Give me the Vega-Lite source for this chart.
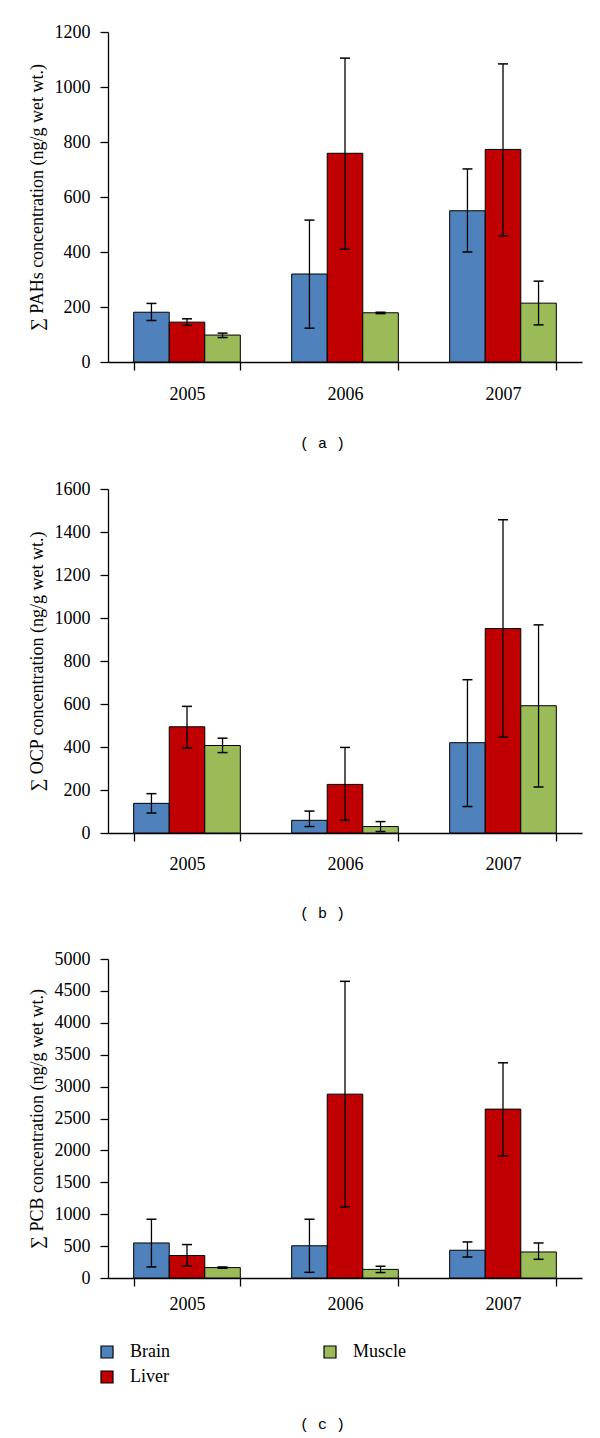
{
  "$schema": "https://vega.github.io/schema/vega-lite/v6.json",
  "background": "white",
  "padding": {"top": 23, "left": 28, "right": 12, "bottom": 5},
  "spacing": 30,
  "config": {
    "view": {"stroke": null},
    "font": "Liberation Serif",
    "axis": {
      "labelFont": "Liberation Serif", "labelFontSize": 18, "labelColor": "black",
      "titleFont": "Liberation Serif", "titleFontSize": 18, "titleFontWeight": "normal", "titleColor": "black",
      "domainColor": "black", "tickColor": "black", "domainWidth": 1.3, "tickWidth": 1.3, "tickSize": 8, "grid": false
    },
    "axisX": {"labelAngle": 0, "tickBand": "extent", "titleFont": "Liberation Mono", "titleFontSize": 15, "titleX": 214, "titleAlign": "center", "titleAnchor": null},
    "axisY": {"labelPadding": 10, "titlePadding": 8, "format": "d", "labelOverlap": false}
  },
  "datasets": {
    "pah": [
      {"year": "2005", "tissue": "Brain", "value": 181, "lo": 151, "hi": 213},
      {"year": "2005", "tissue": "Liver", "value": 145, "lo": 133, "hi": 157},
      {"year": "2005", "tissue": "Muscle", "value": 98, "lo": 89, "hi": 105},
      {"year": "2006", "tissue": "Brain", "value": 320, "lo": 123, "hi": 516},
      {"year": "2006", "tissue": "Liver", "value": 759, "lo": 410, "hi": 1105},
      {"year": "2006", "tissue": "Muscle", "value": 179, "lo": 176, "hi": 181},
      {"year": "2007", "tissue": "Brain", "value": 550, "lo": 400, "hi": 702},
      {"year": "2007", "tissue": "Liver", "value": 773, "lo": 459, "hi": 1084},
      {"year": "2007", "tissue": "Muscle", "value": 214, "lo": 135, "hi": 294}
    ],
    "ocp": [
      {"year": "2005", "tissue": "Brain", "value": 138, "lo": 93, "hi": 183},
      {"year": "2005", "tissue": "Liver", "value": 494, "lo": 395, "hi": 589},
      {"year": "2005", "tissue": "Muscle", "value": 407, "lo": 374, "hi": 441},
      {"year": "2006", "tissue": "Brain", "value": 59, "lo": 30, "hi": 102},
      {"year": "2006", "tissue": "Liver", "value": 226, "lo": 59, "hi": 398},
      {"year": "2006", "tissue": "Muscle", "value": 30, "lo": 7, "hi": 53},
      {"year": "2007", "tissue": "Brain", "value": 420, "lo": 123, "hi": 713},
      {"year": "2007", "tissue": "Liver", "value": 951, "lo": 446, "hi": 1457},
      {"year": "2007", "tissue": "Muscle", "value": 592, "lo": 214, "hi": 968}
    ],
    "pcb": [
      {"year": "2005", "tissue": "Brain", "value": 549, "lo": 173, "hi": 921},
      {"year": "2005", "tissue": "Liver", "value": 352, "lo": 188, "hi": 524},
      {"year": "2005", "tissue": "Muscle", "value": 163, "lo": 153, "hi": 173},
      {"year": "2006", "tissue": "Brain", "value": 505, "lo": 89, "hi": 921},
      {"year": "2006", "tissue": "Liver", "value": 2882, "lo": 1114, "hi": 4650},
      {"year": "2006", "tissue": "Muscle", "value": 135, "lo": 85, "hi": 184},
      {"year": "2007", "tissue": "Brain", "value": 435, "lo": 329, "hi": 565},
      {"year": "2007", "tissue": "Liver", "value": 2647, "lo": 1914, "hi": 3373},
      {"year": "2007", "tissue": "Muscle", "value": 408, "lo": 293, "hi": 549}
    ]
  },
  "resolve": {"scale": {"color": "independent"}, "legend": {"color": "independent"}},
  "vconcat": [
    {
      "width": 474, "height": 330,
      "data": {"name": "pah"},
      "encoding": {
        "x": {"field": "year", "type": "nominal", "scale": {"paddingInner": 0.325, "paddingOuter": 0.1625},
              "axis": {"title": "( a )", "labelPadding": 15, "titlePadding": 32}},
        "xOffset": {"field": "tissue", "type": "nominal", "sort": ["Brain", "Liver", "Muscle"], "scale": {"paddingInner": 0, "paddingOuter": 0}}
      },
      "layer": [
        {"mark": {"type": "bar", "stroke": "black", "strokeWidth": 1},
         "encoding": {
           "y": {"field": "value", "type": "quantitative", "scale": {"domain": [0, 1200], "nice": false},
                 "axis": {"title": "∑ PAHs concentration (ng/g wet wt.)", "values": [0, 200, 400, 600, 800, 1000, 1200]}},
           "color": {"field": "tissue", "type": "nominal", "scale": {"domain": ["Brain", "Muscle", "Liver"], "range": ["#4F81BD", "#9BBB59", "#C00000"]}, "legend": null}
         }},
        {"mark": {"type": "rule", "color": "black", "strokeWidth": 1.3},
         "encoding": {"y": {"field": "lo", "type": "quantitative", "axis": {"title": "∑ PAHs concentration (ng/g wet wt.)", "values": [0, 200, 400, 600, 800, 1000, 1200]}}, "y2": {"field": "hi"}}},
        {"mark": {"type": "tick", "color": "black", "size": 10, "thickness": 1.5, "opacity": 1},
         "encoding": {"y": {"field": "lo", "type": "quantitative", "axis": {"title": "∑ PAHs concentration (ng/g wet wt.)", "values": [0, 200, 400, 600, 800, 1000, 1200]}}}},
        {"mark": {"type": "tick", "color": "black", "size": 10, "thickness": 1.5, "opacity": 1},
         "encoding": {"y": {"field": "hi", "type": "quantitative", "axis": {"title": "∑ PAHs concentration (ng/g wet wt.)", "values": [0, 200, 400, 600, 800, 1000, 1200]}}}}
      ]
    },
    {
      "width": 474, "height": 344,
      "data": {"name": "ocp"},
      "encoding": {
        "x": {"field": "year", "type": "nominal", "scale": {"paddingInner": 0.325, "paddingOuter": 0.1625},
              "axis": {"title": "( b )", "labelPadding": 14, "titlePadding": 32}},
        "xOffset": {"field": "tissue", "type": "nominal", "sort": ["Brain", "Liver", "Muscle"], "scale": {"paddingInner": 0, "paddingOuter": 0}}
      },
      "layer": [
        {"mark": {"type": "bar", "stroke": "black", "strokeWidth": 1},
         "encoding": {
           "y": {"field": "value", "type": "quantitative", "scale": {"domain": [0, 1600], "nice": false},
                 "axis": {"title": "∑ OCP concentration (ng/g wet wt.)", "values": [0, 200, 400, 600, 800, 1000, 1200, 1400, 1600]}},
           "color": {"field": "tissue", "type": "nominal", "scale": {"domain": ["Brain", "Muscle", "Liver"], "range": ["#4F81BD", "#9BBB59", "#C00000"]}, "legend": null}
         }},
        {"mark": {"type": "rule", "color": "black", "strokeWidth": 1.3},
         "encoding": {"y": {"field": "lo", "type": "quantitative", "axis": {"title": "∑ OCP concentration (ng/g wet wt.)", "values": [0, 200, 400, 600, 800, 1000, 1200, 1400, 1600]}}, "y2": {"field": "hi"}}},
        {"mark": {"type": "tick", "color": "black", "size": 10, "thickness": 1.5, "opacity": 1},
         "encoding": {"y": {"field": "lo", "type": "quantitative", "axis": {"title": "∑ OCP concentration (ng/g wet wt.)", "values": [0, 200, 400, 600, 800, 1000, 1200, 1400, 1600]}}}},
        {"mark": {"type": "tick", "color": "black", "size": 10, "thickness": 1.5, "opacity": 1},
         "encoding": {"y": {"field": "hi", "type": "quantitative", "axis": {"title": "∑ OCP concentration (ng/g wet wt.)", "values": [0, 200, 400, 600, 800, 1000, 1200, 1400, 1600]}}}}
      ]
    },
    {
      "width": 474, "height": 319,
      "data": {"name": "pcb"},
      "encoding": {
        "x": {"field": "year", "type": "nominal", "scale": {"paddingInner": 0.325, "paddingOuter": 0.1625},
              "axis": {"title": "( c )", "labelPadding": 9, "titlePadding": 103}},
        "xOffset": {"field": "tissue", "type": "nominal", "sort": ["Brain", "Liver", "Muscle"], "scale": {"paddingInner": 0, "paddingOuter": 0}}
      },
      "layer": [
        {"mark": {"type": "bar", "stroke": "black", "strokeWidth": 1},
         "encoding": {
           "y": {"field": "value", "type": "quantitative", "scale": {"domain": [0, 5000], "nice": false},
                 "axis": {"title": "∑ PCB concentration (ng/g wet wt.)", "values": [0, 500, 1000, 1500, 2000, 2500, 3000, 3500, 4000, 4500, 5000]}},
           "color": {"field": "tissue", "type": "nominal", "title": null,
                     "scale": {"domain": ["Brain", "Muscle", "Liver"], "range": ["#4F81BD", "#9BBB59", "#C00000"]},
                     "legend": {"orient": "none", "legendX": -10, "legendY": 384, "columns": 2, "direction": "horizontal",
                                "symbolType": "square", "symbolSize": 144, "symbolStrokeColor": "black", "symbolStrokeWidth": 1.2,
                                "labelFont": "Liberation Serif", "labelFontSize": 18, "labelColor": "black", "labelOffset": 14,
                                "columnPadding": 151, "rowPadding": 7}}
         }},
        {"mark": {"type": "rule", "color": "black", "strokeWidth": 1.3},
         "encoding": {"y": {"field": "lo", "type": "quantitative", "axis": {"title": "∑ PCB concentration (ng/g wet wt.)", "values": [0, 500, 1000, 1500, 2000, 2500, 3000, 3500, 4000, 4500, 5000]}}, "y2": {"field": "hi"}}},
        {"mark": {"type": "tick", "color": "black", "size": 10, "thickness": 1.5, "opacity": 1},
         "encoding": {"y": {"field": "lo", "type": "quantitative", "axis": {"title": "∑ PCB concentration (ng/g wet wt.)", "values": [0, 500, 1000, 1500, 2000, 2500, 3000, 3500, 4000, 4500, 5000]}}}},
        {"mark": {"type": "tick", "color": "black", "size": 10, "thickness": 1.5, "opacity": 1},
         "encoding": {"y": {"field": "hi", "type": "quantitative", "axis": {"title": "∑ PCB concentration (ng/g wet wt.)", "values": [0, 500, 1000, 1500, 2000, 2500, 3000, 3500, 4000, 4500, 5000]}}}}
      ]
    }
  ]
}
